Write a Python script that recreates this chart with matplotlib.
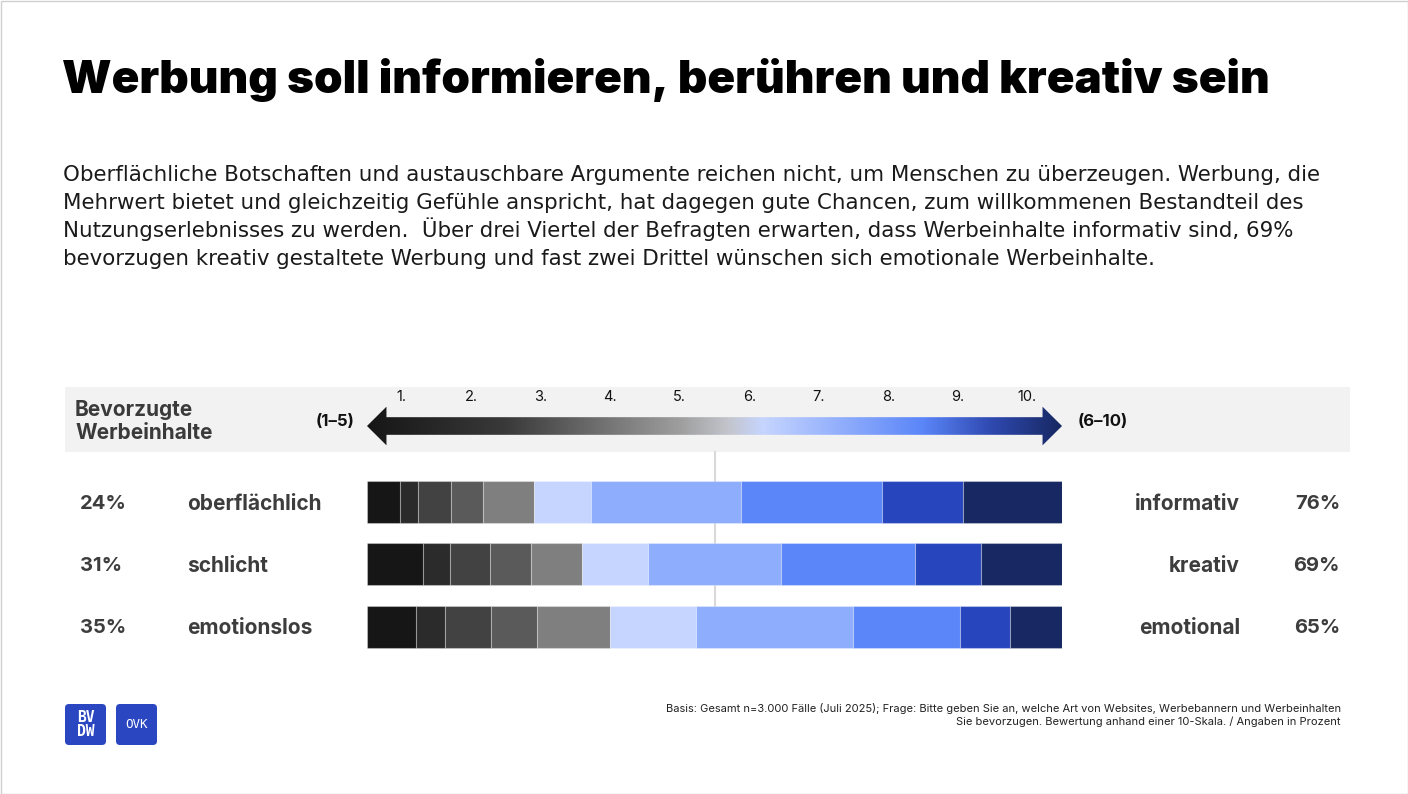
import numpy as np
import matplotlib
matplotlib.use("Agg")
import matplotlib.pyplot as plt
import matplotlib.transforms as mtransforms
from matplotlib.colors import LinearSegmentedColormap
from matplotlib.patches import Rectangle, Polygon, FancyBboxPatch

# --- data (percent per scale point 1..10) ---
left_labels = ["oberflächlich", "schlicht", "emotionslos"]
right_labels = ["informativ", "kreativ", "emotional"]
left_share = ["24%", "31%", "35%"]
right_share = ["76%", "69%", "65%"]
scale_points = ["1.", "2.", "3.", "4.", "5.", "6.", "7.", "8.", "9.", "10."]
values = [
    [4.7, 2.7, 4.7, 4.6, 7.3, 8.3, 21.5, 20.3, 11.7, 14.2],
    [8.1, 3.8, 5.8, 5.9, 7.4, 9.5, 19.0, 19.3, 9.5, 11.7],
    [7.1, 4.1, 6.7, 6.6, 10.5, 12.3, 22.6, 15.4, 7.2, 7.5],
]
seg_colors = ["#161616", "#2b2b2b", "#424242", "#5a5a5a", "#7f7f7f",
              "#c6d5ff", "#8eadfc", "#5b86f9", "#2746bd", "#172862"]

W, H = 1408, 794
fig = plt.figure(figsize=(W / 100, H / 100), dpi=100)
fig.patch.set_facecolor("white")

# background / layout axes in pixel units
bg = fig.add_axes([0, 0, 1, 1])
bg.set_xlim(0, W)
bg.set_ylim(H, 0)
bg.axis("off")
bg.add_patch(Rectangle((0.5, 0.5), W - 1, H - 1, fill=False, ec="#d0d0d0", lw=1))

bg.text(62, 80, "Werbung soll informieren, berühren und kreativ sein",
        fontsize=33, fontweight="black", family="Inter", color="#000000",
        va="center", ha="left")

body_lines = [
    "Oberflächliche Botschaften und austauschbare Argumente reichen nicht, um Menschen zu überzeugen. Werbung, die",
    "Mehrwert bietet und gleichzeitig Gefühle anspricht, hat dagegen gute Chancen, zum willkommenen Bestandteil des",
    "Nutzungserlebnisses zu werden.  Über drei Viertel der Befragten erwarten, dass Werbeinhalte informativ sind, 69%",
    "bevorzugen kreativ gestaltete Werbung und fast zwei Drittel wünschen sich emotionale Werbeinhalte.",
]
for n, line in enumerate(body_lines):
    bg.text(63, 181 + 28 * n, line, fontsize=15.4, family="DejaVu Sans", color="#1a1a1a",
            va="baseline", ha="left")

# header band
bg.add_patch(Rectangle((65, 387), 1285, 65, fc="#f2f2f2", ec="none"))
for n, word in enumerate(["Bevorzugte", "Werbeinhalte"]):
    bg.text(75, 416 + 23 * n, word, fontsize=15, fontweight="bold",
            family="Inter", color="#3a3a3a", va="baseline", ha="left")
bg.text(335, 422, "(1–5)", fontsize=12, fontweight="bold", family="Inter",
        color="#111111", va="center", ha="center")
bg.text(1078, 422, "(6–10)", fontsize=12, fontweight="bold", family="Inter",
        color="#111111", va="center", ha="left")

# footnote
bg.text(1341, 709, "Basis: Gesamt n=3.000 Fälle (Juli 2025); Frage: Bitte geben Sie an, welche Art von Websites, Werbebannern und Werbeinhalten",
        fontsize=8, family="Inter", color="#222222", ha="right", va="center")
bg.text(1341, 722, "Sie bevorzugen. Bewertung anhand einer 10-Skala. / Angaben in Prozent",
        fontsize=8, family="Inter", color="#222222", ha="right", va="center")

# logos
for x0, txt, fs in [(65, "BV\nDW", 10.5), (116, "OVK", 9)]:
    bg.add_patch(FancyBboxPatch((x0 + 3, 707), 35, 35, boxstyle="round,pad=3,rounding_size=4",
                                fc="#2a47c1", ec="none"))
    bg.text(x0 + 20.5, 724.5, txt, fontsize=fs, family="DejaVu Sans Mono",
            fontweight="bold" if txt != "OVK" else "normal",
            color="white", ha="center", va="center", linespacing=0.9)

# --- bars axes ---
bar_left, bar_right = 367, 1062
ax_top, ax_bot = 471, 657.7
ax = fig.add_axes([bar_left / W, 1 - ax_bot / H, (bar_right - bar_left) / W, (ax_bot - ax_top) / H])
ax.patch.set_alpha(0)
ax.set_xlim(0, 100)
ax.set_ylim(len(values) - 0.5, -0.5)
ax.axis("off")

ax.axvline(50, ymin=0.277, ymax=1.10, color="#d9d9d9", lw=1.5, zorder=0, clip_on=False)

vals = np.array(values)
lefts = np.zeros(len(values))
for k in range(vals.shape[1]):
    ax.barh(range(len(values)), vals[:, k], left=lefts, height=0.677,
            color=seg_colors[k], edgecolor=(1, 1, 1, 0.3), linewidth=0.8, zorder=2)
    lefts += vals[:, k]

trans = mtransforms.blended_transform_factory(bg.transData, ax.transData)
for i in range(len(values)):
    kw = dict(fontweight="bold", family="Inter", color="#3d3d3d",
              va="center", transform=trans)
    ax.text(80, i + 0.03, left_share[i], ha="left", fontsize=14.5, **kw)
    ax.text(187, i + 0.03, left_labels[i], ha="left", fontsize=15, **kw)
    ax.text(1240, i + 0.03, right_labels[i], ha="right", fontsize=15, **kw)
    ax.text(1340, i + 0.03, right_share[i], ha="right", fontsize=14.5, **kw)

# --- gradient arrow axes ---
ar_top, ar_bot = 405, 447
axa = fig.add_axes([bar_left / W, 1 - ar_bot / H, (bar_right - bar_left) / W, (ar_bot - ar_top) / H])
axa.patch.set_alpha(0)
axa.set_xlim(0, 100)
axa.set_ylim(-1, 1)
for s in axa.spines.values():
    s.set_visible(False)
axa.set_yticks([])
axa.set_xticks([10 * k + 5 for k in range(len(scale_points))])
axa.set_xticklabels(scale_points, fontsize=10.5, family="Inter", color="#111111")
axa.tick_params(axis="x", top=True, labeltop=True, bottom=False, labelbottom=False, length=0, pad=1)

cmap = LinearSegmentedColormap.from_list("scale", [
    (0.0, "#161616"), (0.2, "#3a3a3a"), (0.45, "#9e9e9e"), (0.52, "#c3c5cc"),
    (0.57, "#c6d5ff"), (0.8, "#5b86f9"), (0.9, "#2f49b0"), (1.0, "#172862")])
grad = np.linspace(0, 1, 512).reshape(1, -1)
im = axa.imshow(grad, extent=(0, 100, -1, 1), aspect="auto", cmap=cmap, zorder=2)
hl, hw, bw = 2.8, 0.92, 0.42
arrow = Polygon([(0, 0), (hl, hw), (hl, bw), (100 - hl, bw), (100 - hl, hw), (100, 0),
                 (100 - hl, -hw), (100 - hl, -bw), (hl, -bw), (hl, -hw)],
                closed=True, fc="none", ec="none", transform=axa.transData)
axa.add_patch(arrow)
im.set_clip_path(arrow)

fig.savefig("out.png", dpi=100, facecolor="white")
